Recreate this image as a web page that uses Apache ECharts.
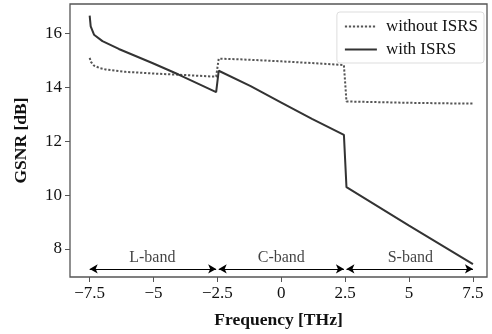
<!DOCTYPE html>
<html>
<head>
<meta charset="utf-8">
<script src="https://cdn.jsdelivr.net/npm/echarts@6/dist/echarts.min.js"></script>
<style>
  html, body { margin: 0; padding: 0; background: #fff; }
  #chart { width: 492px; height: 334px; }
</style>
</head>
<body>
<div id="chart"></div>
<script>
// GSNR per channel frequency
const withoutIsrs = [
  [-7.5, 15.1], [-7.45, 14.95], [-7.33, 14.81], [-7.1, 14.72], [-6.88, 14.67],
  [-6.09, 14.58], [-5.05, 14.52], [-3.75, 14.46], [-2.55, 14.4],
  [-2.45, 15.07], [-1.5, 15.04], [0, 14.97], [1.5, 14.89], [2.45, 14.83],
  [2.55, 13.48], [3.5, 13.46], [5, 13.43], [6.5, 13.41], [7.5, 13.4],
];
const withIsrs = [
  [-7.5, 16.67], [-7.46, 16.27], [-7.33, 15.96], [-7.0, 15.72], [-6.36, 15.43],
  [-5.05, 14.91], [-4.02, 14.48], [-2.55, 13.83],
  [-2.45, 14.62], [-1.2, 14.05], [0, 13.44], [1.2, 12.83], [2.45, 12.24],
  [2.55, 10.3], [5.0, 8.87], [7.5, 7.44],
];
const xTicks = [-7.5, -5, -2.5, 0, 2.5, 5, 7.5];
const yTicks = [8, 10, 12, 14, 16];
const bands = [
  { name: "L-band", from: -7.5, to: -2.55, mid: -5.05 },
  { name: "C-band", from: -2.45, to: 2.45, mid: 0 },
  { name: "S-band", from: 2.55, to: 7.5, mid: 5.05 },
];
const arrowY = 7.26;
const bandLabelY = 7.68;

const font = "'Liberation Serif', 'DejaVu Serif', serif";
const ink = "#333";
const dotInk = "#555";
const frame = "#555";

const chart = echarts.init(document.getElementById("chart"));

const fmtTick = (v) => (v < 0 ? "\u2212" + Math.abs(v) : String(v));

const option = {
  animation: false,
  grid: {
    left: 70, right: 5, top: 4, bottom: 56,
    show: true, borderColor: frame, borderWidth: 1.3,
  },
  legend: {
    right: 8, top: 12,
    orient: "vertical",
    itemWidth: 32, itemHeight: 10, itemGap: 6,
    padding: [6, 6, 5, 7],
    borderColor: "#ddd", borderWidth: 1, borderRadius: 3,
    backgroundColor: "rgba(255,255,255,0.8)",
    itemStyle: { opacity: 0 },
    textStyle: { fontFamily: font, fontSize: 17, color: "#111", padding: [0, 0, 0, 4] },
    data: ["without ISRS", "with ISRS"],
  },
  xAxis: {
    type: "value",
    min: -8.27, max: 8.05,
    name: "Frequency [THz]",
    nameLocation: "middle", nameGap: 34,
    nameTextStyle: { fontFamily: font, fontSize: 17.5, fontWeight: "bold", color: "#111" },
    axisLine: { show: false, onZero: false },
    splitLine: { show: false },
    axisTick: { show: true, customValues: xTicks, length: 5, lineStyle: { color: frame } },
    axisLabel: {
      customValues: xTicks, formatter: fmtTick, margin: 8,
      fontFamily: font, fontSize: 17, color: "#111",
    },
  },
  yAxis: {
    type: "value",
    min: 6.96, max: 17.1,
    name: "GSNR [dB]",
    nameLocation: "middle", nameGap: 40,
    nameTextStyle: { fontFamily: font, fontSize: 17.5, fontWeight: "bold", color: "#111" },
    axisLine: { show: false, onZero: false },
    splitLine: { show: false },
    axisTick: { show: true, customValues: yTicks, length: 5, lineStyle: { color: frame } },
    axisLabel: {
      customValues: yTicks, margin: 8,
      fontFamily: font, fontSize: 17, color: "#111",
    },
  },
  series: [
    {
      name: "without ISRS",
      type: "line",
      data: withoutIsrs,
      symbol: "none",
      lineStyle: { color: dotInk, width: 2, type: [2.2, 1.8] },
      itemStyle: { color: dotInk },
      z: 2,
    },
    {
      name: "with ISRS",
      type: "line",
      data: withIsrs,
      symbol: "none",
      lineStyle: { color: ink, width: 2 },
      itemStyle: { color: ink },
      z: 3,
      markLine: {
        silent: true,
        symbol: ["arrow", "arrow"],
        symbolSize: [7, 8],
        lineStyle: { color: "#000", width: 1.2, type: "solid" },
        label: { show: false },
        data: bands.map((b) => [
          { coord: [b.from, arrowY] },
          { coord: [b.to, arrowY] },
        ]),
      },
    },
    {
      name: "bands",
      type: "scatter",
      data: bands.map((b) => ({ value: [b.mid, bandLabelY], name: b.name })),
      symbolSize: 0,
      silent: true,
      label: {
        show: true,
        position: "inside",
        formatter: (p) => p.name,
        fontFamily: font, fontSize: 16, color: "#111",
      },
    },
  ],
};

chart.setOption(option);
</script>
</body>
</html>
